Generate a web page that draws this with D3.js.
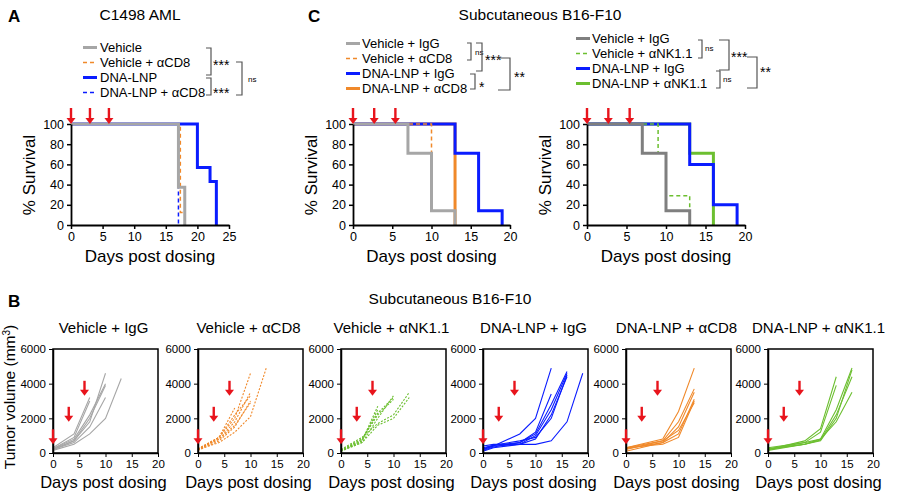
<!DOCTYPE html>
<html><head><meta charset="utf-8">
<script src="https://cdn.jsdelivr.net/npm/d3@7"></script>
<style>body{margin:0;background:#fff}text{font-family:Arial,"Liberation Sans",sans-serif}</style>
</head><body><svg id="c" width="900" height="492"></svg>
<script>
var GRAY = "#a6a6a6", DGRAY = "#7f7f7f", ORANGE = "#f0892a", BLUE = "#0a1cff", GREEN = "#6cbf30", RED = "#e8141c";

// survival curves: [day, % survival] at each step
var survA = [
  {name: "Vehicle", color: GRAY, dash: null, w: 3, pts: [[0,100],[17,37.5],[18,0]]},
  {name: "Vehicle + αCD8", color: ORANGE, dash: "4,3", w: 1.5, pts: [[0,100],[17.3,12.5],[18,0]]},
  {name: "DNA-LNP", color: BLUE, dash: null, w: 3, pts: [[0,100],[20,57],[22,43],[23,0]]},
  {name: "DNA-LNP + αCD8", color: BLUE, dash: "4,3", w: 1.5, pts: [[0,100],[17,0]]}
];
var survC1 = [
  {name: "Vehicle + IgG", color: GRAY, dash: null, w: 3, pts: [[0,100],[7,71],[10,14],[13,0]]},
  {name: "Vehicle + αCD8", color: ORANGE, dash: "4,3", w: 1.5, pts: [[0,100],[10,14],[13,0]]},
  {name: "DNA-LNP + IgG", color: BLUE, dash: null, w: 3, pts: [[0,100],[13,71],[16,14],[19,0]]},
  {name: "DNA-LNP + αCD8", color: ORANGE, dash: null, w: 3, pts: [[0,100],[13,0]]}
];
var survC2 = [
  {name: "Vehicle + IgG", color: DGRAY, dash: null, w: 3, pts: [[0,100],[7,71],[10,14],[13,0]]},
  {name: "Vehicle + αNK1.1", color: GREEN, dash: "4,3", w: 1.5, pts: [[0,100],[9,71],[10,29],[13,0]]},
  {name: "DNA-LNP + IgG", color: BLUE, dash: null, w: 3, pts: [[0,100],[13,60],[16,20],[19,0]]},
  {name: "DNA-LNP + αNK1.1", color: GREEN, dash: null, w: 3, pts: [[0,100],[13,71],[16,0]]}
];
var doseDays = [0, 3, 6];
var doseDaysC = [0, 2.7, 5.4];
var survTicks = [0, 20, 40, 60, 80, 100];

// tumour volume per mouse: [day, mm3]
var tumorGroups = [
  {title: "Vehicle + IgG", color: GRAY, dash: null, mice: [
    [[0,200],[4,700],[7,1800],[10,4600]],
    [[0,250],[4,800],[7,2200],[10,4000]],
    [[0,300],[4,1100],[7,3200]],
    [[0,200],[4,600],[7,1500],[10,3200]],
    [[0,150],[4,500],[7,1100],[10,2000],[13,4300]],
    [[0,250],[4,900],[7,3000]],
    [[0,200],[4,700],[7,2000],[10,3900]]]},
  {title: "Vehicle + αCD8", color: ORANGE, dash: "2,1.5", mice: [
    [[0,200],[4,900],[7,2000],[10,4600]],
    [[0,200],[4,800],[7,1800],[10,3500]],
    [[0,150],[4,700],[7,1500],[10,3000]],
    [[0,200],[4,800],[7,1600],[10,2900]],
    [[0,200],[4,600],[7,1200],[10,2100],[13,4900]],
    [[0,250],[4,900],[7,2200],[10,3300]],
    [[0,200],[4,900],[7,2600]]]},
  {title: "Vehicle + αNK1.1", color: GREEN, dash: "2,1.5", mice: [
    [[0,150],[4,700],[7,2700]],
    [[0,100],[4,600],[7,2000],[10,3300]],
    [[0,150],[4,800],[7,2300],[10,3200]],
    [[0,200],[4,900],[7,1700],[10,2200],[13,3500]],
    [[0,150],[4,600],[7,1600],[10,2000],[13,3200]],
    [[0,100],[4,700],[7,2500]],
    [[0,150],[4,800],[7,2200],[10,3100]]]},
  {title: "DNA-LNP + IgG", color: BLUE, dash: null, mice: [
    [[0,200],[2,400],[7,1100],[10,2000],[13,4900]],
    [[0,300],[2,450],[7,600],[10,1200],[13,3400]],
    [[0,200],[2,400],[7,500],[10,1000],[13,2500],[16,4600]],
    [[0,150],[2,350],[7,600],[10,1100],[13,2800],[16,4700]],
    [[0,250],[2,450],[7,700],[10,900],[13,2000],[16,4500]],
    [[0,100],[2,300],[7,500],[10,500],[13,700],[16,1800],[19,4600]],
    [[0,400],[2,500],[7,500],[10,800],[13,2200],[16,4400]]]},
  {title: "DNA-LNP + αCD8", color: ORANGE, dash: null, mice: [
    [[0,300],[7,800],[10,2400],[13,4900]],
    [[0,200],[7,700],[10,1800],[13,3700]],
    [[0,100],[7,600],[10,1500],[13,3500]],
    [[0,300],[7,500],[10,900],[13,3000]],
    [[0,250],[7,600],[10,1100],[13,3100]],
    [[0,300],[7,700],[10,1300],[13,2900]]]},
  {title: "DNA-LNP + αNK1.1", color: GREEN, dash: null, mice: [
    [[0,200],[7,700],[10,1400],[13,4400]],
    [[0,200],[7,600],[10,1200],[13,3900]],
    [[0,300],[7,600],[10,800],[13,2500],[16,4900]],
    [[0,200],[7,500],[10,700],[13,2000],[16,4800]],
    [[0,250],[7,500],[10,750],[13,2200],[16,4400]],
    [[0,150],[7,500],[10,800],[13,1800],[16,3500]]]}
];
var tumorArrows = [[0,500],[3,1800],[6,3300]];
var tumorTicksY = [0, 2000, 4000, 6000];
var tumorTicksX = [0, 5, 10, 15, 20];

var svg = d3.select("#c");

function txt(x, y, s, size, anchor, weight) {
  return svg.append("text").attr("x", x).attr("y", y).text(s)
    .attr("font-size", size).attr("text-anchor", anchor || "start")
    .attr("font-weight", weight || "normal");
}
function arrow(g, x, yTip, len) {
  g.append("line").attr("x1", x).attr("x2", x).attr("y1", yTip - len).attr("y2", yTip - 5)
    .attr("stroke", RED).attr("stroke-width", 2.4);
  g.append("path").attr("d", "M" + (x - 4.5) + "," + (yTip - 6) + "L" + (x + 4.5) + "," + (yTip - 6) + "L" + x + "," + yTip + "Z")
    .attr("fill", RED);
}
function bracket(x, y1, y2, dx) {
  svg.append("path").attr("d", "M" + (x - dx) + "," + y1 + "H" + x + "V" + y2 + "H" + (x - dx))
    .attr("fill", "none").attr("stroke", "#555").attr("stroke-width", 1.2);
}

function survival(x0, x1, xMax, xTicks, series, days) {
  var x = d3.scaleLinear().domain([0, xMax]).range([x0, x1]);
  var y = d3.scaleLinear().domain([0, 100]).range([225, 124]);
  var g = svg.append("g");
  var line = d3.line().x(function(d) { return x(d[0]); }).y(function(d) { return y(d[1]); }).curve(d3.curveStepAfter);
  series.slice().reverse().forEach(function(s) {
    g.append("path").attr("d", line(s.pts)).attr("fill", "none").attr("stroke", s.color)
      .attr("stroke-width", s.w).attr("stroke-dasharray", s.dash);
  });
  g.append("g").attr("transform", "translate(0,225)")
    .call(d3.axisBottom(x).tickValues(xTicks).tickSize(4).tickSizeOuter(0));
  g.append("g").attr("transform", "translate(" + x0 + ",0)")
    .call(d3.axisLeft(y).tickValues(survTicks).tickSize(4).tickSizeOuter(0));
  g.selectAll(".tick text").attr("font-size", 12.5).attr("font-family", "Arial,Liberation Sans,sans-serif").attr("fill", "#000");
  g.selectAll(".domain").attr("stroke-width", 1.8);
  g.selectAll(".tick line").attr("stroke-width", 1.5);
  days.forEach(function(d) { arrow(g, x(d), 124, 16); });
  txt((x0 + x1) / 2, 262, "Days post dosing", 17, "middle");
  svg.append("text").attr("transform", "translate(" + (x0 - 36) + ",175) rotate(-90)")
    .attr("text-anchor", "middle").attr("font-size", 17).text("% Survival");
}

function legend(lx, tx, ys, series) {
  series.forEach(function(s, i) {
    svg.append("line").attr("x1", lx).attr("x2", lx + 14).attr("y1", ys[i] - 4.5).attr("y2", ys[i] - 4.5)
      .attr("stroke", s.color).attr("stroke-width", s.w).attr("stroke-dasharray", s.dash);
    txt(tx, ys[i], s.name, 13);
  });
}

// Panel A
txt(8, 22, "A", 17, "start", "bold");
txt(140, 20, "C1498 AML", 15.5, "middle");
survival(71, 229, 25, [0, 5, 10, 15, 20, 25], survA, doseDays);
legend(83, 100, [52, 67, 82, 97], survA);
bracket(211, 48, 75, 5); txt(213, 70, "***", 14);
bracket(211, 78, 95, 5); txt(213, 98, "***", 14);
bracket(242, 62, 95, 6); txt(248, 82, "ns", 8);

// Panel C
txt(308, 22, "C", 17, "start", "bold");
txt(540, 20, "Subcutaneous B16-F10", 15.5, "middle");
survival(353, 510, 20, [0, 5, 10, 15, 20], survC1, doseDaysC);
survival(587, 745, 20, [0, 5, 10, 15, 20], survC2, doseDaysC);
legend(346, 362, [48, 63, 78, 93], survC1);
bracket(471, 43, 60, 4); txt(475, 55, "ns", 8);
bracket(482, 43, 71, 6); txt(485, 65, "***", 14);
bracket(475, 74, 89, 5); txt(479, 92, "*", 14);
bracket(510, 58, 90, 12); txt(514, 82, "**", 14);
legend(576, 592, [43, 58, 73, 88], survC2);
bracket(702, 40, 58, 4); txt(705, 51, "ns", 8);
bracket(729, 40, 70, 10); txt(731, 62, "***", 14);
bracket(720, 71, 88, 4); txt(723, 82, "ns", 8);
bracket(757, 57, 88, 10); txt(760, 77, "**", 14);

// Panel B
txt(8, 307, "B", 17, "start", "bold");
txt(450, 304, "Subcutaneous B16-F10", 15.5, "middle");
var bStarts = [53, 198, 341, 483, 626, 768];
tumorGroups.forEach(function(gr, i) {
  var x0 = bStarts[i], x1 = x0 + 105;
  var x = d3.scaleLinear().domain([0, 20]).range([x0, x1]);
  var y = d3.scaleLinear().domain([0, 6000]).range([453, 349]);
  var g = svg.append("g");
  var line = d3.line().x(function(d) { return x(d[0]); }).y(function(d) { return y(d[1]); });
  gr.mice.forEach(function(m) {
    g.append("path").attr("d", line(m)).attr("fill", "none").attr("stroke", gr.color)
      .attr("stroke-width", 1.1).attr("stroke-dasharray", gr.dash);
  });
  g.append("rect").attr("x", x0).attr("y", 349).attr("width", x1 - x0).attr("height", 104)
    .attr("fill", "none").attr("stroke", "#000").attr("stroke-width", 1.5);
  g.append("g").attr("transform", "translate(0,453)")
    .call(d3.axisBottom(x).tickValues(tumorTicksX).tickSize(4).tickSizeOuter(0));
  g.append("g").attr("transform", "translate(" + x0 + ",0)")
    .call(d3.axisLeft(y).tickValues(tumorTicksY).tickFormat(d3.format("d")).tickSize(4).tickSizeOuter(0));
  g.selectAll(".tick text").attr("font-size", 11.5).attr("font-family", "Arial,Liberation Sans,sans-serif").attr("fill", "#000");
  g.selectAll(".domain").attr("stroke-width", 1.5);
  tumorArrows.forEach(function(a) { arrow(g, x(a[0]), y(a[1]), 15); });
  txt((x0 + x1) / 2 - 2, 333, gr.title, 15, "middle");
  txt((x0 + x1) / 2 - 2, 488, "Days post dosing", 16.5, "middle");
});
svg.append("text").attr("transform", "translate(15,397) rotate(-90)").attr("text-anchor", "middle")
  .attr("font-size", 15.5).html("Tumor volume (mm<tspan baseline-shift='super' font-size='10'>3</tspan>)");
</script></body></html>
